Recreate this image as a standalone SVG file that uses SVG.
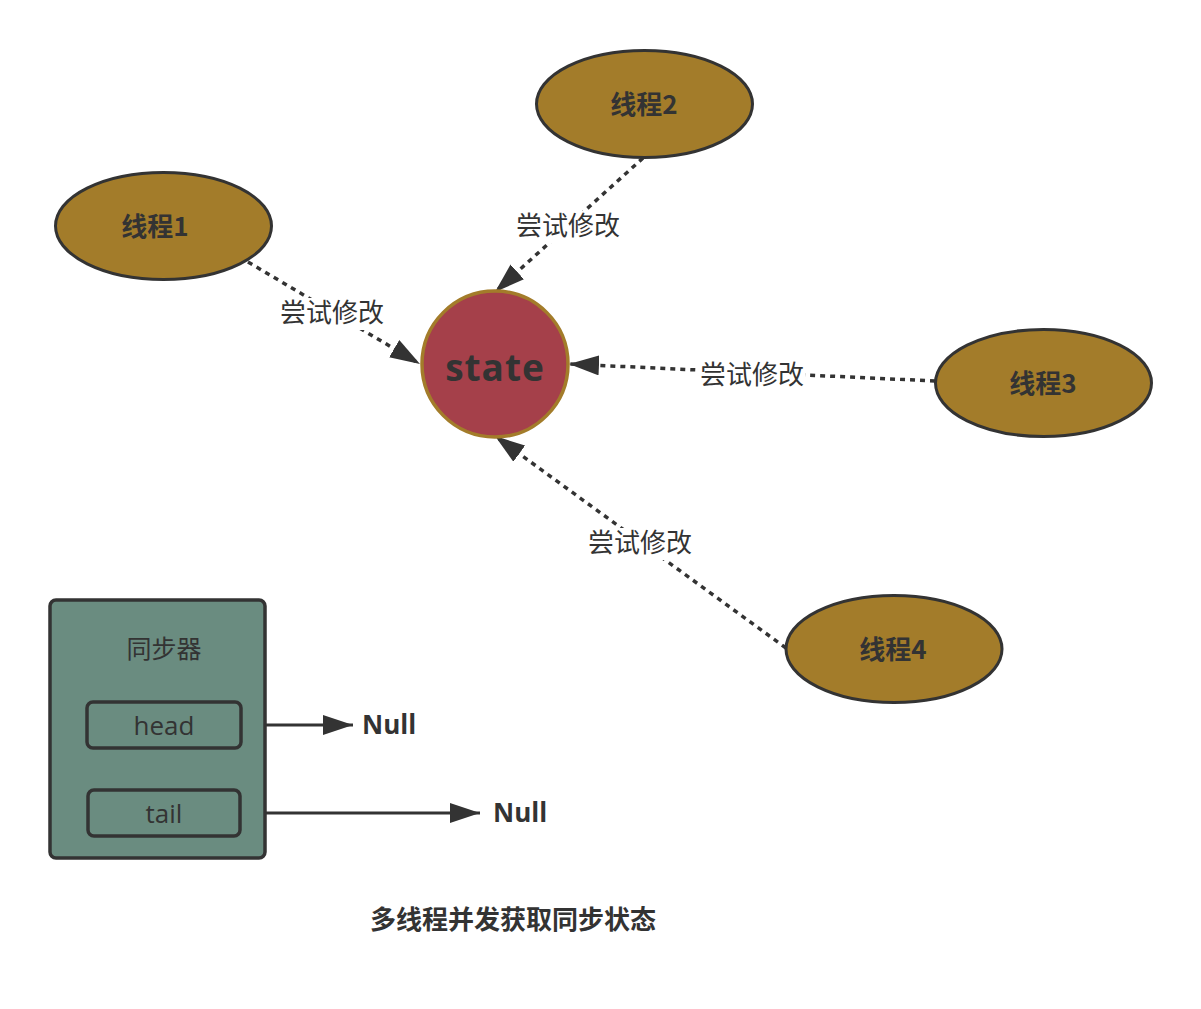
<svg xmlns="http://www.w3.org/2000/svg" width="1201" height="1009" viewBox="0 0 1201 1009">
<defs>
<marker id="ah" viewBox="0 0 30 20" refX="30" refY="10" markerWidth="30" markerHeight="20" markerUnits="userSpaceOnUse" orient="auto">
<path d="M0,0 L30,10 L0,20 Z" fill="#333"/>
</marker>
</defs>
<style>
.th{fill:#a37c2a;stroke:#333;stroke-width:3}
.tt{font-family:"Noto Sans CJK SC","Noto Sans",sans-serif;font-weight:bold;font-size:26px;fill:#333;text-anchor:middle}
.dl{stroke:#333;stroke-width:3.5;stroke-dasharray:5,5;fill:none}
.sl{stroke:#333;stroke-width:3;fill:none}
.lb{font-family:"Noto Sans CJK SC","Noto Sans",sans-serif;font-size:26px;fill:#333;text-anchor:middle}
.bg{fill:#fff}
.box{fill:#6a8c80;stroke:#333;stroke-width:3.5}
.nl{font-family:"Open Sans","Noto Sans",sans-serif;font-weight:bold;font-size:26px;fill:#333}
</style>
<rect width="1201" height="1009" fill="#fff"/>
<g id="connectors">
<line class="dl" x1="248" y1="262" x2="420" y2="364" marker-end="url(#ah)"/>
<line class="dl" x1="643" y1="158" x2="495" y2="292" marker-end="url(#ah)"/>
<line class="dl" x1="935" y1="381" x2="569" y2="364" marker-end="url(#ah)"/>
<line class="dl" x1="786" y1="648" x2="495" y2="436" marker-end="url(#ah)"/>
<rect class="bg" x="279" y="298" width="106" height="32"/>
<text class="lb" x="332" y="322">尝试修改</text>
<rect class="bg" x="515" y="211" width="106" height="32"/>
<text class="lb" x="568" y="235">尝试修改</text>
<rect class="bg" x="699" y="360" width="106" height="32"/>
<text class="lb" x="752" y="384">尝试修改</text>
<rect class="bg" x="587" y="528" width="106" height="32"/>
<text class="lb" x="640" y="552">尝试修改</text>
<line class="sl" x1="241" y1="725" x2="353" y2="725" marker-end="url(#ah)"/>
<line class="sl" x1="240" y1="813" x2="480" y2="813" marker-end="url(#ah)"/>
</g>
<g id="thread1">
<ellipse class="th" cx="163.5" cy="226" rx="108" ry="53.5"/>
<text class="tt" x="155" y="236">线程1</text>
</g>
<g id="thread2">
<ellipse class="th" cx="644.5" cy="104" rx="108" ry="53.5"/>
<text class="tt" x="644" y="114">线程2</text>
</g>
<g id="thread3">
<ellipse class="th" cx="1043.5" cy="383" rx="108" ry="53.5"/>
<text class="tt" x="1043" y="393">线程3</text>
</g>
<g id="thread4">
<ellipse class="th" cx="894" cy="649" rx="108" ry="53.5"/>
<text class="tt" x="893" y="659">线程4</text>
</g>
<g id="state">
<circle cx="495" cy="364" r="73" fill="#a5404a" stroke="#a37c2a" stroke-width="3.5"/>
<text x="495" y="381" font-family="Open Sans,'Noto Sans',sans-serif" font-weight="bold" font-size="37" fill="#333" text-anchor="middle" letter-spacing="1">state</text>
</g>
<g id="sync">
<rect class="box" x="50" y="600" width="215" height="258" rx="6"/>
<text x="164" y="658" font-family="'Noto Sans CJK SC','Noto Sans',sans-serif" font-size="25" fill="#333" text-anchor="middle">同步器</text>
</g>
<g id="head">
<rect class="box" x="87" y="702" width="154" height="46" rx="6"/>
<text x="164" y="735" font-family="'Open Sans','Noto Sans',sans-serif" font-size="26" fill="#333" text-anchor="middle">head</text>
</g>
<g id="tail">
<rect class="box" x="88" y="790" width="152" height="46" rx="6"/>
<text x="164" y="823" font-family="'Open Sans','Noto Sans',sans-serif" font-size="26" fill="#333" text-anchor="middle">tail</text>
</g>
<g id="null1"><text class="nl" x="362" y="734">Null</text></g>
<g id="null2"><text class="nl" x="493" y="822">Null</text></g>
<g id="caption">
<text x="513" y="929" font-family="'Noto Sans CJK SC','Noto Sans',sans-serif" font-weight="bold" font-size="26" fill="#333" text-anchor="middle">多线程并发获取同步状态</text>
</g>
</svg>
